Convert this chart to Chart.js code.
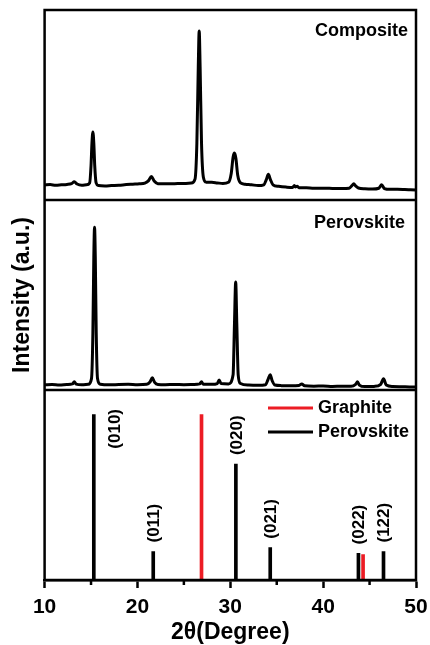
<!DOCTYPE html>
<html><head><meta charset="utf-8">
<script src="https://cdn.jsdelivr.net/npm/chart.js@4.4.1/dist/chart.umd.min.js"></script>
<style>html,body{margin:0;padding:0;background:#fff}#wrap{width:430px;height:645px}</style>
</head><body><div id="wrap"><canvas id="c" width="430" height="645"></canvas></div>
<script>
// ---- data ----
const compositeX = [10.0,10.6,11.2,11.8,12.4,12.9,13.2,13.5,14.0,14.5,14.85,15.0,15.1,15.2,15.3,15.4,15.55,15.8,16.5,17.2,18.0,18.8,19.5,20.2,20.8,21.2,21.5,21.8,22.2,23.0,24.0,25.0,25.8,26.2,26.4,26.55,26.65,26.75,26.9,27.1,27.4,28.0,28.6,29.2,29.8,30.1,30.3,30.45,30.6,30.8,31.1,31.6,32.3,33.0,33.6,33.9,34.1,34.3,34.6,35.2,36.0,36.7,36.9,37.0,37.2,37.4,38.2,39.0,40.0,41.0,42.0,42.8,43.1,43.3,43.5,43.8,44.5,45.3,46.0,46.3,46.6,47.2,48.0,48.8,49.4,50.0];
const compositeY = [7.9,8.1,7.8,8.0,8.2,8.6,9.6,8.4,7.8,8.0,9.0,18,30,35.8,30,18,9.0,7.6,7.4,7.6,7.8,8.1,8.3,8.5,8.9,10.2,12.4,10.0,8.6,8.5,8.6,8.7,8.9,11,30,70,89,70,30,12,9.4,9.3,9.0,8.7,9.3,14,22.5,24.7,22,13,9.0,8.3,8.0,7.6,8.0,11,13.5,11,8.0,7.2,6.8,6.6,7.6,6.9,7.2,6.5,6.4,6.2,6.2,6.1,6.0,6.2,7.6,8.6,7.4,6.3,5.9,5.8,6.2,8.0,6.0,5.6,5.6,5.5,5.4,5.3];

const perovskiteX = [10.0,10.8,11.6,12.4,13.0,13.2,13.4,14.0,14.7,15.05,15.2,15.3,15.38,15.46,15.56,15.7,16.0,17.0,18.0,19.0,20.0,21.0,21.35,21.6,21.85,22.2,23.0,24.0,25.0,26.0,26.7,26.9,27.1,28.0,28.6,28.8,29.0,29.8,30.3,30.45,30.58,30.7,30.85,31.1,32.0,33.0,33.8,34.1,34.3,34.5,34.8,35.5,36.5,37.4,37.7,38.0,39.0,40.0,41.0,42.0,43.0,43.5,43.7,43.9,44.5,45.5,46.2,46.5,46.8,47.5,48.5,49.3,50.0];
const perovskiteY = [2.7,2.9,2.6,2.9,3.2,4.3,3.1,2.8,3.0,6,30,70,85.6,70,30,6,3.0,2.7,2.9,3.0,2.8,3.0,4.2,6.4,4.0,2.9,2.8,2.9,2.8,2.9,3.2,4.3,3.0,3.0,3.4,5.3,3.4,3.2,8,35,56.9,35,8,3.4,2.6,2.5,2.8,6,8.0,5,2.6,2.3,2.2,2.4,3.2,2.2,2.0,2.1,1.9,2.0,2.0,3.0,4.3,2.6,1.8,1.9,3.0,5.9,2.6,1.8,1.7,1.6,1.6];

const refPerovskiteX = [15.3, 21.7, 30.6, 34.3, 43.8, 46.5];
const refPerovskiteY = [87, 15, 61, 17, 14, 15];
const refPerovskiteHkl = ['(010)','(011)','(020)','(021)','(022)','(122)'];
const refGraphiteX = [26.9, 44.3];
const refGraphiteY = [87, 13.4];

const xTickValues = [10, 20, 30, 40, 50];
const xMinorTickValues = [15, 25, 35, 45];
const panelNames = ['Composite', 'Perovskite'];
const legendNames = ['Graphite', 'Perovskite'];

// ---- build ----
const zip = (xs, ys) => xs.map((x, i) => ({x, y: ys[i]}));
const FONT = '"Liberation Sans", Arial, sans-serif';
const RED = '#ec1c24';

const framePlugin = {
  id: 'frame',
  afterDatasetsDraw(chart) {
    const {ctx, chartArea: a, scales} = chart;
    ctx.save();
    ctx.strokeStyle = '#000';
    ctx.lineWidth = 2.5;
    ctx.strokeRect(a.left, a.top, a.right - a.left, a.bottom - a.top);
    [scales.y2.top, scales.y3.top].forEach(y => {
      ctx.beginPath(); ctx.moveTo(a.left, y); ctx.lineTo(a.right, y); ctx.stroke();
    });
    // minor x ticks (shorter)
    ctx.lineWidth = 2.5;
    xMinorTickValues.forEach(v => {
      const px = scales.x.getPixelForValue(v);
      ctx.beginPath(); ctx.moveTo(px, a.bottom); ctx.lineTo(px, a.bottom + 5); ctx.stroke();
    });
    // panel names
    ctx.fillStyle = '#000';
    ctx.font = 'bold 18px ' + FONT;
    ctx.textAlign = 'right'; ctx.textBaseline = 'middle';
    ctx.fillText(panelNames[0], a.right - 8, scales.y1.top + 21);
    ctx.fillText(panelNames[1], a.right - 11, scales.y2.top + 23);
    // legend
    const legendItems = [
      {name: legendNames[0], color: chart.data.datasets[3].backgroundColor},
      {name: legendNames[1], color: chart.data.datasets[2].backgroundColor}
    ];
    legendItems.forEach((it, i) => {
      const y = scales.y3.top + 18 + i * 24;
      ctx.strokeStyle = it.color; ctx.lineWidth = 3;
      ctx.beginPath(); ctx.moveTo(a.right - 148, y); ctx.lineTo(a.right - 103, y); ctx.stroke();
      ctx.textAlign = 'left';
      ctx.fillText(it.name, a.right - 98, y);
    });
    // hkl labels
    const meta = chart.getDatasetMeta(2);
    ctx.font = 'bold 17px ' + FONT;
    meta.data.forEach((bar, i) => {
      const text = refPerovskiteHkl[i];
      const L = ctx.measureText(text).width;
      let cx, bottom;
      if (bar.y - 9 - L < scales.y3.top + 12) { cx = bar.x + 22; bottom = scales.y3.top + 19 + L; }
      else { cx = bar.x + 1; bottom = bar.y - 9; }
      ctx.save();
      ctx.translate(cx, bottom); ctx.rotate(-Math.PI / 2);
      ctx.textAlign = 'left'; ctx.textBaseline = 'middle';
      ctx.fillText(text, 0, 0);
      ctx.restore();
    });
    ctx.restore();
  }
};

const hiddenY = (extra) => Object.assign({
  type: 'linear', position: 'left', stack: 'panels', stackWeight: 1,
  grid: {display: false, drawTicks: false},
  border: {display: false},
  ticks: {display: false}
}, extra);

new Chart(document.getElementById('c'), {
  type: 'line',
  data: {
    datasets: [
      {label: 'Composite', data: zip(compositeX, compositeY), yAxisID: 'y1',
       borderColor: '#000', borderWidth: 3, pointRadius: 0, cubicInterpolationMode: 'monotone', borderJoinStyle: 'round'},
      {label: 'Perovskite', data: zip(perovskiteX, perovskiteY), yAxisID: 'y2',
       borderColor: '#000', borderWidth: 3, pointRadius: 0, cubicInterpolationMode: 'monotone', borderJoinStyle: 'round'},
      {type: 'bar', label: 'Perovskite ref', data: zip(refPerovskiteX, refPerovskiteY), yAxisID: 'y3',
       backgroundColor: '#000', barThickness: 3, grouped: false},
      {type: 'bar', label: 'Graphite ref', data: zip(refGraphiteX, refGraphiteY), yAxisID: 'y3',
       backgroundColor: RED, barThickness: 3, grouped: false}
    ]
  },
  options: {
    responsive: false, animation: false, devicePixelRatio: 1,
    layout: {padding: {left: 9, right: 14, top: 10, bottom: 0}},
    plugins: {legend: {display: false}, tooltip: {enabled: false}},
    scales: {
      y3: hiddenY({min: 0, max: 100}),
      y2: hiddenY({min: 0, max: 100,
        title: {display: true, text: 'Intensity (a.u.)', color: '#000', font: {family: FONT, size: 23, weight: 'bold'}, padding: {top: 0, bottom: 8}}}),
      y1: hiddenY({min: 0, max: 100}),
      x: {
        type: 'linear', min: 10, max: 50, position: 'bottom', offset: false,
        grid: {display: true, drawOnChartArea: false, drawTicks: true, tickLength: 8, tickWidth: 2.5, tickColor: '#000', offset: false},
        border: {display: true, color: '#000', width: 2.5},
        afterBuildTicks(s) { s.ticks = xTickValues.map(v => ({value: v})); },
        afterFit(s) { s.paddingRight = 0; s.paddingLeft = 0; },
        ticks: {
          color: '#000', font: {family: FONT, size: 21, weight: 'bold', lineHeight: 1}, padding: 8.5, maxRotation: 0
        },
        title: {display: true, text: '2θ(Degree)', color: '#000', font: {family: FONT, size: 23, weight: 'bold', lineHeight: '13px'}, padding: {top: 0, bottom: 6}}
      }
    }
  },
  plugins: [framePlugin]
});
</script></body></html>
